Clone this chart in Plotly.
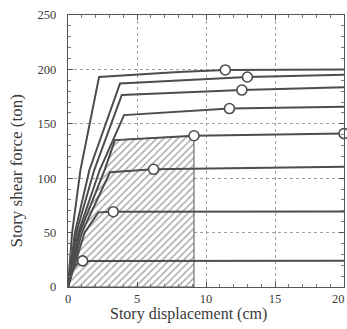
import plotly.graph_objects as go

# --- data (displacement cm, shear force ton) ---
c1_x = [0, 0.3, 0.9, 2.25, 8.0, 11.4, 20]
c1_y = [0, 50, 107.5, 193, 197.5, 199.5, 200]
c2_x = [0, 0.5, 1.55, 3.77, 13.0, 20]
c2_y = [0, 50, 107.5, 187, 193, 195]
c3_x = [0, 0.6, 1.9, 3.9, 12.6, 20]
c3_y = [0, 50, 107.5, 176.5, 181, 183.5]
c4_x = [0, 0.75, 2.3, 4.06, 11.7, 20]
c4_y = [0, 50, 107.5, 158, 164, 165.7]
c5_x = [0, 0.85, 2.65, 3.4, 9.13, 20]
c5_y = [0, 50, 107.5, 135, 139, 141]
c6_x = [0, 1.0, 3.04, 6.2, 20]
c6_y = [0, 50, 105.4, 108.2, 110.6]
c7_x = [0, 1.2, 2.2, 3.28, 20]
c7_y = [0, 50, 68.6, 69.2, 69.5]
c8_x = [0, 0.3, 0.8, 1.06, 20]
c8_y = [0, 15, 23.5, 24, 24.2]

circle_x = [11.4, 13.0, 12.6, 11.7, 9.13, 6.2, 3.28, 1.06, 20.0]
circle_y = [199.5, 193, 181, 164, 139, 108.2, 69.2, 24, 141]

x_ticks = [0, 5, 10, 15, 20]
y_ticks = [0, 50, 100, 150, 200, 250]
x_title = "Story displacement (cm)"
y_title = "Story shear force (ton)"

LINE = "#4d4d4d"
TEXT = "#3a3a3a"
FONT = "Liberation Serif"

fig = go.Figure()

# hatched area under curve 5 up to its circle
hatch_x = c5_x[:5] + [c5_x[4], 0]
hatch_y = c5_y[:5] + [0, 0]
fig.add_trace(go.Scatter(
    x=hatch_x, y=hatch_y, mode="lines", fill="toself",
    line=dict(color="#555", width=1),
    fillcolor="rgba(0,0,0,0)",
    fillpattern=dict(shape="/", fgcolor="#555", bgcolor="white", size=5, solidity=0.3),
    hoverinfo="skip"))

for xs, ys in [(c1_x, c1_y), (c2_x, c2_y), (c3_x, c3_y), (c4_x, c4_y),
               (c5_x, c5_y), (c6_x, c6_y), (c7_x, c7_y), (c8_x, c8_y)]:
    fig.add_trace(go.Scatter(x=xs, y=ys, mode="lines",
                             line=dict(color=LINE, width=2)))

fig.add_trace(go.Scatter(x=circle_x, y=circle_y, mode="markers", cliponaxis=False,
                         marker=dict(size=10, color="white",
                                     line=dict(color=LINE, width=1.6))))

axis_common = dict(
    showline=True, linecolor="#555", linewidth=1.3, mirror="allticks",
    ticks="inside", ticklen=5, tickcolor="#555", tickwidth=1,
    showgrid=True, gridcolor="#a0a0a0", griddash="dot", gridwidth=1,
    zeroline=False, ticklabeloverflow="allow", automargin=False,
    tickfont=dict(family=FONT, size=12.5, color=TEXT),
)

# last x label is drawn as an annotation so it stays inside the page edge
x_ticktext = [str(v) for v in x_ticks[:-1]] + [""]

fig.update_xaxes(range=[0, 20], tickvals=x_ticks, ticktext=x_ticktext,
                 minor=dict(dtick=1, ticks="inside", ticklen=3, tickcolor="#777", showgrid=False),
                 **axis_common)
fig.update_yaxes(range=[0, 250], tickvals=y_ticks, ticktext=[str(v) for v in y_ticks],
                 ticklabelstandoff=8,
                 minor=dict(dtick=10, ticks="inside", ticklen=3, tickcolor="#777", showgrid=False),
                 **axis_common)

fig.update_layout(
    width=347, height=329,
    margin=dict(l=68, r=3, t=15, b=42),
    plot_bgcolor="white", paper_bgcolor="white",
    showlegend=False,
    font=dict(family=FONT, color=TEXT),
    annotations=[
        dict(text=str(x_ticks[-1]), xref="paper", yref="paper", x=1.0105, y=-0.044,
             showarrow=False, font=dict(family=FONT, size=12.5, color=TEXT),
             xanchor="right", yanchor="middle"),
        dict(text=x_title, xref="paper", yref="paper", x=0.438, y=-0.1,
             showarrow=False, font=dict(family=FONT, size=16, color=TEXT),
             xanchor="center", yanchor="middle"),
        dict(text=y_title, xref="paper", yref="paper", x=-0.187, y=0.426,
             showarrow=False, textangle=-90, font=dict(family=FONT, size=17, color=TEXT),
             xanchor="center", yanchor="middle"),
    ],
)

fig.write_html("out.html")
